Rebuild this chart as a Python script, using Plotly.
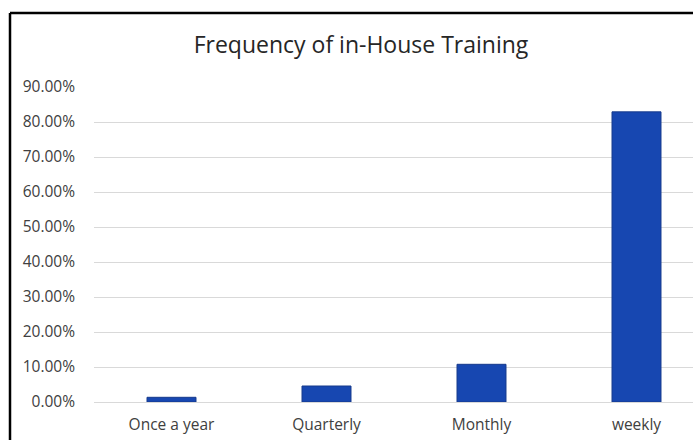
import plotly.graph_objects as go

# Survey results: how often in-house training takes place
categories = ["Once a year", "Quarterly", "Monthly", "weekly"]
shares = [1.34, 4.57, 10.77, 82.9]  # percent of respondents
y_ticks = [0, 10, 20, 30, 40, 50, 60, 70, 80, 90]
y_tick_labels = [f"{v:.2f}%" for v in y_ticks]

W, H = 693, 440
L, R, T, B = 94, 0, 87, 38
plot_w = W - L - R
plot_h = H - T - B

def px_to_paper_x(px):
    return (px - L) / plot_w

def px_to_paper_y(py):
    return 1 + (T - py) / plot_h

fig = go.Figure(
    go.Bar(
        x=categories,
        y=shares,
        width=0.316,
        marker=dict(color="#1747B1", line=dict(color="#163A8C", width=1)),
        hoverinfo="x+y",
    )
)

fig.update_layout(
    width=W,
    height=H,
    margin=dict(l=L, r=R, t=T, b=B),
    paper_bgcolor="white",
    plot_bgcolor="white",
    showlegend=False,
    font=dict(family="Open Sans, Liberation Sans, sans-serif", color="#404040", size=15.5),
    title=dict(
        text="Frequency of in-House Training",
        x=361 / W,
        xanchor="center",
        y=1 - 45 / H,
        yanchor="middle",
        font=dict(size=23, color="#262626"),
    ),
    xaxis=dict(
        range=[-0.5, -0.5 + plot_w / 155],
        showgrid=False,
        showline=False,
        ticks="",
        ticklabelstandoff=11,
        tickfont=dict(size=15.5, color="#404040"),
    ),
    yaxis=dict(
        range=[0, 90],
        tickvals=y_ticks,
        ticktext=y_tick_labels,
        showgrid=True,
        gridcolor="#D9D9D9",
        gridwidth=1,
        zeroline=True,
        zerolinecolor="#D9D9D9",
        zerolinewidth=1,
        showline=False,
        ticks="",
        ticklabelstandoff=18,
        tickfont=dict(size=15.5, color="#404040"),
    ),
    shapes=[
        # chart frame (top and left edges)
        dict(type="line", xref="paper", yref="paper",
             x0=px_to_paper_x(10), x1=px_to_paper_x(W + 5),
             y0=px_to_paper_y(13), y1=px_to_paper_y(13),
             line=dict(color="black", width=2.5)),
        dict(type="line", xref="paper", yref="paper",
             x0=px_to_paper_x(10), x1=px_to_paper_x(10),
             y0=px_to_paper_y(13), y1=px_to_paper_y(H + 5),
             line=dict(color="black", width=2.5)),
    ],
)

fig.write_html("out.html", config={"displayModeBar": False})
